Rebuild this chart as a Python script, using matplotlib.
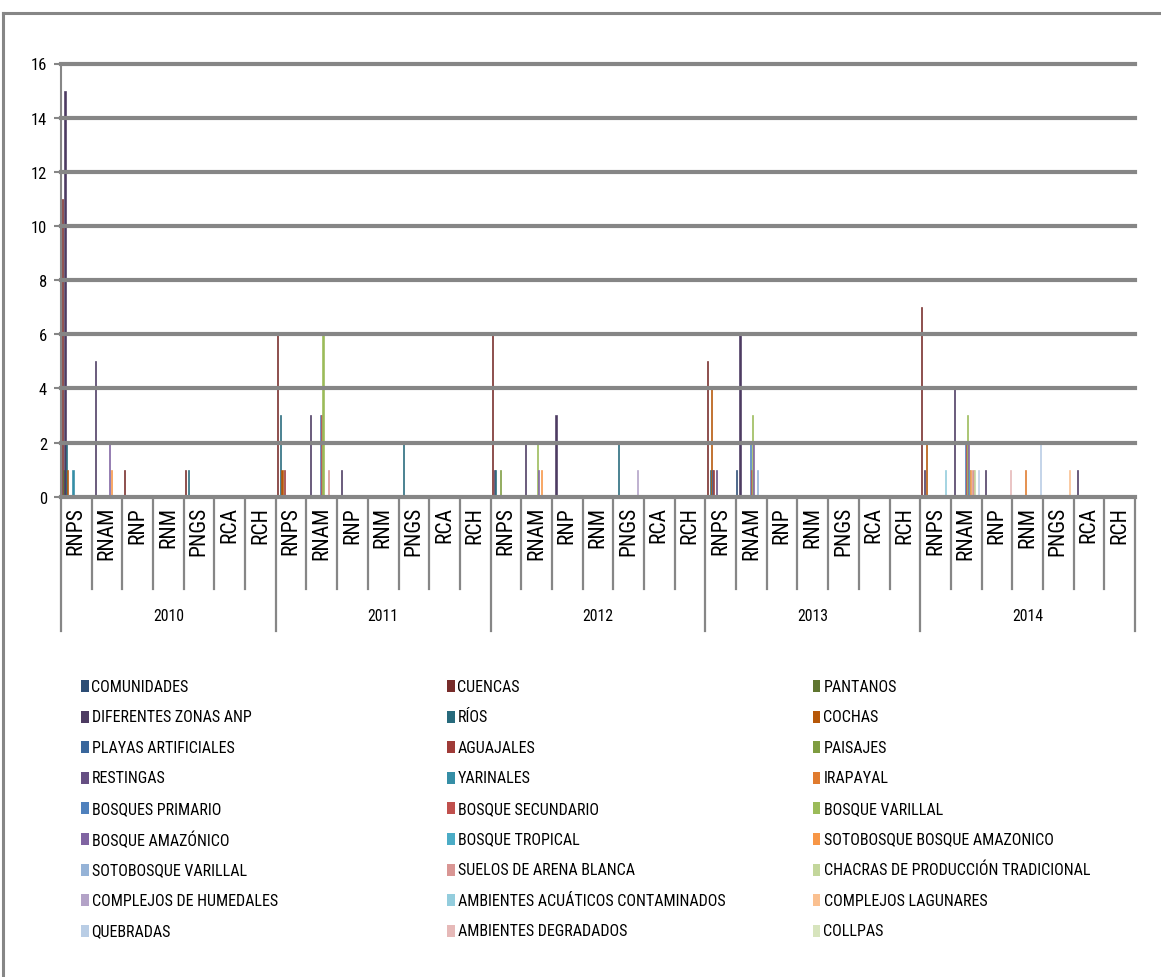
import matplotlib.pyplot as plt
from matplotlib.patches import Rectangle
from matplotlib.lines import Line2D
from matplotlib.font_manager import FontProperties, fontManager
from matplotlib.textpath import TextToPath
import numpy as np

years = ["2010", "2011", "2012", "2013", "2014"]
regions = ["RNPS", "RNAM", "RNP", "RNM", "PNGS", "RCA", "RCH"]

series_names = [
    "COMUNIDADES", "CUENCAS", "PANTANOS",
    "DIFERENTES ZONAS ANP", "RÍOS", "COCHAS",
    "PLAYAS ARTIFICIALES", "AGUAJALES", "PAISAJES",
    "RESTINGAS", "YARINALES", "IRAPAYAL",
    "BOSQUES PRIMARIO", "BOSQUE SECUNDARIO", "BOSQUE VARILLAL",
    "BOSQUE AMAZÓNICO", "BOSQUE TROPICAL", "SOTOBOSQUE BOSQUE AMAZONICO",
    "SOTOBOSQUE VARILLAL", "SUELOS DE ARENA BLANCA", "CHACRAS DE PRODUCCIÓN TRADICIONAL",
    "COMPLEJOS DE HUMEDALES", "AMBIENTES ACUÁTICOS CONTAMINADOS", "COMPLEJOS LAGUNARES",
    "QUEBRADAS", "AMBIENTES DEGRADADOS", "COLLPAS",
]

series_colors = [
    "#2C4D75", "#772C2A", "#5F7530", "#4D3B62", "#276A7C", "#B65708",
    "#3A679C", "#9F3B38", "#7E9C40", "#664F83", "#358EA6", "#E07B2E",
    "#4F81BD", "#C0504D", "#9BBB59", "#8064A2", "#4BACC6", "#F79646",
    "#95B3D7", "#D99694", "#C3D69B", "#B3A2C7", "#93CDDD", "#FAC090",
    "#B9CDE5", "#E6B9B8", "#D7E4BD",
]

# counts per year, one value per region (series not listed are zero)
counts_2010 = {
    "CUENCAS": [11, 0, 1, 0, 1, 0, 0],
    "PANTANOS": [1, 0, 0, 0, 0, 0, 0],
    "DIFERENTES ZONAS ANP": [15, 5, 0, 0, 0, 0, 0],
    "RÍOS": [2, 0, 0, 0, 1, 0, 0],
    "COCHAS": [1, 0, 0, 0, 0, 0, 0],
    "YARINALES": [1, 0, 0, 0, 0, 0, 0],
    "BOSQUE AMAZÓNICO": [0, 2, 0, 0, 0, 0, 0],
    "SOTOBOSQUE BOSQUE AMAZONICO": [0, 1, 0, 0, 0, 0, 0],
}
counts_2011 = {
    "CUENCAS": [6, 0, 0, 0, 0, 0, 0],
    "DIFERENTES ZONAS ANP": [0, 3, 1, 0, 0, 0, 0],
    "RÍOS": [3, 0, 0, 0, 2, 0, 0],
    "COCHAS": [1, 0, 0, 0, 0, 0, 0],
    "AGUAJALES": [1, 0, 0, 0, 0, 0, 0],
    "BOSQUES PRIMARIO": [0, 3, 0, 0, 0, 0, 0],
    "BOSQUE SECUNDARIO": [0, 3, 0, 0, 0, 0, 0],
    "BOSQUE VARILLAL": [0, 6, 0, 0, 0, 0, 0],
    "SUELOS DE ARENA BLANCA": [0, 1, 0, 0, 0, 0, 0],
}
counts_2012 = {
    "CUENCAS": [6, 0, 0, 0, 0, 0, 0],
    "DIFERENTES ZONAS ANP": [1, 2, 3, 0, 0, 0, 0],
    "RÍOS": [1, 0, 0, 0, 2, 0, 0],
    "PAISAJES": [1, 0, 0, 0, 0, 0, 0],
    "BOSQUE VARILLAL": [0, 2, 0, 0, 0, 0, 0],
    "BOSQUE AMAZÓNICO": [0, 1, 0, 0, 0, 0, 0],
    "SOTOBOSQUE BOSQUE AMAZONICO": [0, 1, 0, 0, 0, 0, 0],
    "COMPLEJOS DE HUMEDALES": [0, 0, 0, 0, 1, 0, 0],
}
counts_2013 = {
    "COMUNIDADES": [0, 1, 0, 0, 0, 0, 0],
    "CUENCAS": [5, 0, 0, 0, 0, 0, 0],
    "DIFERENTES ZONAS ANP": [0, 6, 0, 0, 0, 0, 0],
    "RÍOS": [1, 0, 0, 0, 0, 0, 0],
    "COCHAS": [4, 0, 0, 0, 0, 0, 0],
    "PLAYAS ARTIFICIALES": [1, 0, 0, 0, 0, 0, 0],
    "AGUAJALES": [1, 0, 0, 0, 0, 0, 0],
    "RESTINGAS": [1, 0, 0, 0, 0, 0, 0],
    "BOSQUES PRIMARIO": [0, 2, 0, 0, 0, 0, 0],
    "BOSQUE SECUNDARIO": [0, 1, 0, 0, 0, 0, 0],
    "BOSQUE VARILLAL": [0, 3, 0, 0, 0, 0, 0],
    "BOSQUE AMAZÓNICO": [0, 2, 0, 0, 0, 0, 0],
    "SOTOBOSQUE VARILLAL": [0, 1, 0, 0, 0, 0, 0],
}
counts_2014 = {
    "CUENCAS": [7, 0, 0, 0, 0, 0, 0],
    "DIFERENTES ZONAS ANP": [1, 4, 1, 0, 0, 1, 0],
    "COCHAS": [2, 0, 0, 0, 0, 0, 0],
    "IRAPAYAL": [0, 0, 0, 1, 0, 0, 0],
    "BOSQUES PRIMARIO": [0, 2, 0, 0, 0, 0, 0],
    "BOSQUE SECUNDARIO": [0, 2, 0, 0, 0, 0, 0],
    "BOSQUE VARILLAL": [0, 3, 0, 0, 0, 0, 0],
    "BOSQUE AMAZÓNICO": [0, 2, 0, 0, 0, 0, 0],
    "BOSQUE TROPICAL": [0, 1, 0, 0, 0, 0, 0],
    "SOTOBOSQUE BOSQUE AMAZONICO": [0, 1, 0, 0, 0, 0, 0],
    "SUELOS DE ARENA BLANCA": [0, 1, 0, 0, 0, 0, 0],
    "CHACRAS DE PRODUCCIÓN TRADICIONAL": [0, 1, 0, 0, 0, 0, 0],
    "AMBIENTES ACUÁTICOS CONTAMINADOS": [1, 0, 0, 0, 0, 0, 0],
    "COMPLEJOS LAGUNARES": [0, 0, 0, 0, 1, 0, 0],
    "QUEBRADAS": [0, 1, 0, 2, 0, 0, 0],
    "AMBIENTES DEGRADADOS": [0, 0, 1, 0, 0, 0, 0],
}
yearly_counts = [counts_2010, counts_2011, counts_2012, counts_2013, counts_2014]

# prefer a narrow/condensed sans face when one is installed
installed = {(f.name, f.stretch) for f in fontManager.ttflist}
face, stretch = "Liberation Sans", "normal"
for cand in ["Liberation Sans Narrow", "Arial Narrow", "Roboto Condensed",
             "Open Sans Condensed", "Noto Sans Condensed", "DejaVu Sans Condensed"]:
    if any(n == cand for n, _ in installed):
        face = cand
        break
else:
    for cand in ["Noto Sans", "Roboto", "Open Sans", "DejaVu Sans"]:
        if (cand, "condensed") in installed:
            face, stretch = cand, "condensed"
            break
plt.rcParams["font.family"] = [face, "DejaVu Sans"]
plt.rcParams["font.stretch"] = stretch

W, H = 1161, 978
grey = "#868686"


def size_for(text, width_px):
    """Font size (pt) at which text spans width_px pixels at 100 dpi."""
    prop = FontProperties(family=[face, "DejaVu Sans"], stretch=stretch, size=10)
    w, _, _ = TextToPath().get_text_width_height_descent(text, prop, ismath=False)
    return 10 * (width_px * 0.72) / w


legend_fs = size_for("CHACRAS DE PRODUCCIÓN TRADICIONAL", 268)
region_fs = size_for("RNPS", 48)
year_fs = size_for("2010", 31)
tick_fs = min(size_for("16", 13) * 1.25, 12)

n_series = len(series_names)
n_reg = len(regions)
n_cat = len(years) * n_reg
values = np.zeros((n_series, n_cat))
for yi, counts in enumerate(yearly_counts):
    for name, vals in counts.items():
        values[series_names.index(name), yi * n_reg:(yi + 1) * n_reg] = vals


def fx(px):
    return px / W


def fy(py):
    return 1 - py / H


fig = plt.figure(figsize=(W / 100, H / 100), dpi=100)

# outer chart frame
fig.add_artist(Line2D([fx(3), 1], [fy(14), fy(14)], color=grey, lw=2.2))
fig.add_artist(Line2D([fx(3), fx(3)], [fy(14), 0], color=grey, lw=2.2))

x0, x1, ytop, ybot = 61, 1135, 64.5, 497.7
ax = fig.add_axes([fx(x0), fy(ybot), (x1 - x0) / W, (ybot - ytop) / H])

bw = 1.0 / n_series
cats = np.arange(n_cat)
for i in range(n_series):
    mask = values[i] > 0
    xs = cats[mask] - 0.5 + (i + 0.5) * bw
    ax.bar(xs, values[i][mask], width=bw, color=series_colors[i],
           edgecolor=series_colors[i], linewidth=0.45, zorder=1)

ax.set_xlim(-0.5, n_cat - 0.5)
ax.set_ylim(0, 16)
ax.set_yticks(range(0, 17, 2))
ax.set_axisbelow(False)
ax.yaxis.grid(True, color=grey, linewidth=3.0)
for gl in ax.get_ygridlines():
    gl.set_clip_on(False)
ax.set_xticks([])
for s in ["top", "right", "bottom"]:
    ax.spines[s].set_visible(False)
ax.spines["left"].set_color(grey)
ax.spines["left"].set_linewidth(1.5)
ax.tick_params(axis="y", direction="out", length=5, width=1.5, color=grey,
               labelsize=tick_fs, labelcolor="black", pad=5)

# two-level category axis drawn beneath the plot
tr = ax.get_xaxis_transform()
ph = ybot - ytop


def ay(py):
    return -(py - ybot) / ph


for k in range(n_cat + 1):
    long_tick = k % n_reg == 0
    ax.plot([k - 0.5, k - 0.5], [0, ay(632 if long_tick else 590)], transform=tr,
            color=grey, lw=1.6, clip_on=False)
for k in range(n_cat):
    ax.text(k, ay(507), regions[k % n_reg], transform=tr, rotation=90,
            ha="center", va="top", fontsize=region_fs)
for yi, yr in enumerate(years):
    ax.text(yi * n_reg + n_reg / 2 - 0.5, ay(617), yr, transform=tr,
            ha="center", va="center", fontsize=year_fs)

# legend laid out row by row in three columns
col_x = [80.5, 446.5, 812.5]
row_y0, row_dy = 687, 30.6
for i, name in enumerate(series_names):
    r, c = divmod(i, 3)
    cy = row_y0 + r * row_dy
    fig.add_artist(Rectangle((fx(col_x[c]), fy(cy + 6)), 8 / W, 12 / H,
                             facecolor=series_colors[i], edgecolor="none"))
    fig.text(fx(col_x[c] + 11), fy(cy), name, ha="left", va="center", fontsize=legend_fs)

fig.savefig("out.png", dpi=100)
